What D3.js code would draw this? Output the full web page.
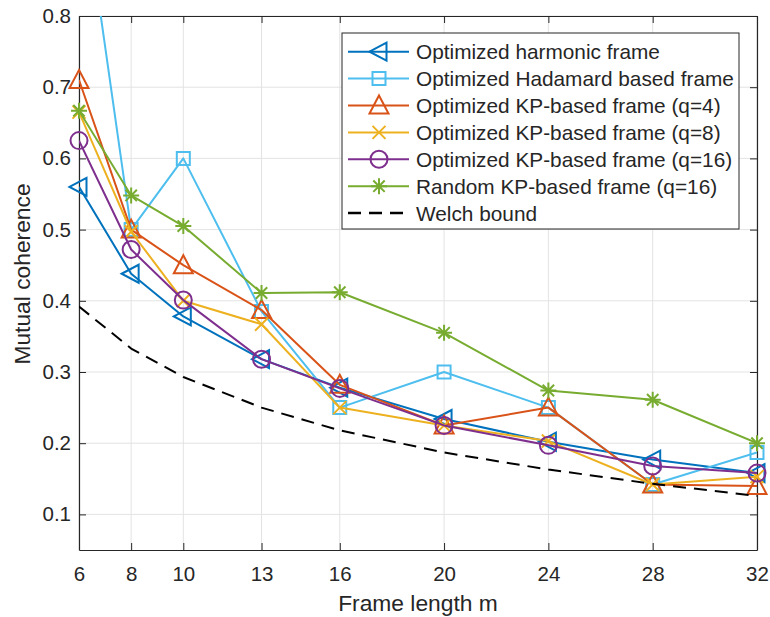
<!DOCTYPE html>
<meta charset="utf-8">
<style>
body { margin: 0; background: #fff; }
svg text { font-family: "Liberation Sans", Arial, Helvetica, sans-serif; fill: #262626; }
.grid line { stroke: #e3e3e3; stroke-width: 1; }
.series path.line { fill: none; stroke-width: 2; stroke-linejoin: round; }
.marker { fill: none; stroke-width: 2; }
</style>
<body>
<div id="chart"></div>
<script src="https://d3js.org/d3.v7.min.js"></script>
<script>

// frame length m on the x axis
var mValues = [6, 8, 10, 13, 16, 20, 24, 28, 32];
var yTicks = [0.1, 0.2, 0.3, 0.4, 0.5, 0.6, 0.7, 0.8];

// mutual coherence
var harmonic = [0.560, 0.438, 0.378, 0.318, 0.278, 0.234, 0.202, 0.177, 0.158];
var hadamard = [1.015, 0.500, 0.600, 0.385, 0.250, 0.300, 0.250, 0.142, 0.187];
var kpQ4     = [0.710, 0.500, 0.450, 0.387, 0.282, 0.225, 0.250, 0.142, 0.140];
var kpQ8     = [0.665, 0.497, 0.400, 0.367, 0.250, 0.225, 0.203, 0.142, 0.153];
var kpQ16    = [0.625, 0.472, 0.401, 0.318, 0.277, 0.225, 0.197, 0.168, 0.158];
var randomKP = [0.667, 0.548, 0.505, 0.411, 0.412, 0.355, 0.274, 0.261, 0.200];
var welch    = [0.392, 0.333, 0.293, 0.250, 0.218, 0.187, 0.163, 0.143, 0.126];

var seriesNames = [
  "Optimized harmonic frame",
  "Optimized Hadamard based frame",
  "Optimized KP-based frame (q=4)",
  "Optimized KP-based frame (q=8)",
  "Optimized KP-based frame (q=16)",
  "Random KP-based frame (q=16)",
  "Welch bound"
];

var series = [
  {name: seriesNames[0], values: harmonic, color: "#0072BD", marker: "left"},
  {name: seriesNames[1], values: hadamard, color: "#4DBEEE", marker: "square"},
  {name: seriesNames[2], values: kpQ4,     color: "#D95319", marker: "up"},
  {name: seriesNames[3], values: kpQ8,     color: "#EDB120", marker: "cross"},
  {name: seriesNames[4], values: kpQ16,    color: "#7E2F8E", marker: "circle"},
  {name: seriesNames[5], values: randomKP, color: "#77AC30", marker: "star"},
  {name: seriesNames[6], values: welch,    color: "#000000", marker: null, dash: "13,8"}
];

var W = 770, H = 617;
var margin = {top: 16, right: 13, bottom: 67, left: 79};
var width = W - margin.left - margin.right,
    height = H - margin.top - margin.bottom;

var x = d3.scaleLinear().domain([6, 32]).range([0, width]);
var y = d3.scaleLinear().domain([0.05, 0.8]).range([height, 0]);

var svg = d3.select("#chart").append("svg")
    .attr("width", W)
    .attr("height", H);

var g = svg.append("g")
    .attr("transform", "translate(" + margin.left + "," + margin.top + ")");

svg.append("defs").append("clipPath").attr("id", "plotClip")
  .append("rect").attr("width", width).attr("height", height);

// grid
var grid = g.append("g").attr("class", "grid");
grid.selectAll(".vg").data(mValues).enter().append("line")
    .attr("x1", function(d) { return x(d); }).attr("x2", function(d) { return x(d); })
    .attr("y1", 0).attr("y2", height);
grid.selectAll(".hg").data(yTicks).enter().append("line")
    .attr("y1", function(d) { return y(d); }).attr("y2", function(d) { return y(d); })
    .attr("x1", 0).attr("x2", width);

// axes (ticks point inward, box on all sides)
function styleAxis(sel) {
  sel.select(".domain").attr("stroke", "#262626").attr("stroke-width", 1.2);
  sel.selectAll(".tick line").attr("stroke", "#262626").attr("stroke-width", 1);
  sel.selectAll("text").attr("fill", "#262626").style("font-size", "20.5px");
}

g.append("g")
    .attr("transform", "translate(0," + height + ")")
    .call(d3.axisBottom(x).tickValues(mValues).tickFormat(d3.format("d"))
      .tickSizeInner(-7).tickSizeOuter(0).tickPadding(16))
    .call(styleAxis);

g.append("g")
    .call(d3.axisTop(x).tickValues(mValues).tickFormat("")
      .tickSizeInner(-7).tickSizeOuter(0))
    .call(styleAxis);

g.append("g")
    .call(d3.axisLeft(y).tickValues(yTicks).tickFormat(d3.format(".1f"))
      .tickSizeInner(-7).tickSizeOuter(0).tickPadding(8))
    .call(styleAxis);

g.append("g")
    .attr("transform", "translate(" + width + ",0)")
    .call(d3.axisRight(y).tickValues(yTicks).tickFormat("")
      .tickSizeInner(-7).tickSizeOuter(0))
    .call(styleAxis);

// markers
function markerPath(type) {
  switch (type) {
    case "left":   return "M-9.5,0L7.5,-9L7.5,9Z";
    case "up":     return "M0,-10L9.5,8L-9.5,8Z";
    case "square": return "M-6.5,-6.5H6.5V6.5H-6.5Z";
    case "cross":  return "M-6.5,-6.5L6.5,6.5M-6.5,6.5L6.5,-6.5";
    case "circle": return "M8.5,0A8.5,8.5 0 1,1 -8.5,0A8.5,8.5 0 1,1 8.5,0Z";
    case "star":   return "M-8,0H8M0,-8V8M-5.7,-5.7L5.7,5.7M-5.7,5.7L5.7,-5.7";
  }
  return "";
}

var line = d3.line()
    .x(function(d, i) { return x(mValues[i]); })
    .y(function(d) { return y(d); });

var sg = g.selectAll(".series").data(series).enter().append("g")
    .attr("class", "series");

sg.append("path")
    .attr("class", "line")
    .attr("clip-path", "url(#plotClip)")
    .attr("d", function(d) { return line(d.values); })
    .attr("stroke", function(d) { return d.color; })
    .attr("stroke-dasharray", function(d) { return d.dash || null; })
    .attr("stroke-width", function(d) { return d.dash ? 2.5 : 2; });

sg.each(function(s) {
  if (!s.marker) return;
  var pts = s.values.map(function(v, i) { return [mValues[i], v]; })
      .filter(function(p) { return p[1] <= 0.8 && p[1] >= 0.05; });
  d3.select(this).selectAll(".marker").data(pts).enter().append("path")
      .attr("class", "marker")
      .attr("transform", function(p) { return "translate(" + x(p[0]) + "," + y(p[1]) + ")"; })
      .attr("d", markerPath(s.marker))
      .attr("stroke", s.color);
});

// axis labels
svg.append("text")
    .attr("x", margin.left + width / 2)
    .attr("y", 611)
    .attr("text-anchor", "middle")
    .style("font-size", "22.8px")
    .text("Frame length m");

svg.append("text")
    .attr("transform", "translate(30,274) rotate(-90)")
    .attr("text-anchor", "middle")
    .style("font-size", "22.8px")
    .text("Mutual coherence");

// legend
var legend = svg.append("g").attr("transform", "translate(342,33)");
legend.append("rect")
    .attr("width", 397).attr("height", 196)
    .attr("fill", "#fff").attr("stroke", "#262626").attr("stroke-width", 1);

var items = legend.selectAll(".item").data(series).enter().append("g")
    .attr("transform", function(d, i) { return "translate(0," + (18.7 + i * 26.9) + ")"; });

items.append("line")
    .attr("x1", 6).attr("x2", 67)
    .attr("stroke", function(d) { return d.color; })
    .attr("stroke-width", function(d) { return d.dash ? 2.5 : 2; })
    .attr("stroke-dasharray", function(d) { return d.dash || null; });

items.filter(function(d) { return d.marker; }).append("path")
    .attr("class", "marker")
    .attr("transform", "translate(37,0)")
    .attr("d", function(d) { return markerPath(d.marker); })
    .attr("stroke", function(d) { return d.color; });

items.append("text")
    .attr("x", 74)
    .attr("y", 7.5)
    .style("font-size", "20.8px")
    .text(function(d) { return d.name; });

</script>
</body>
</html>
